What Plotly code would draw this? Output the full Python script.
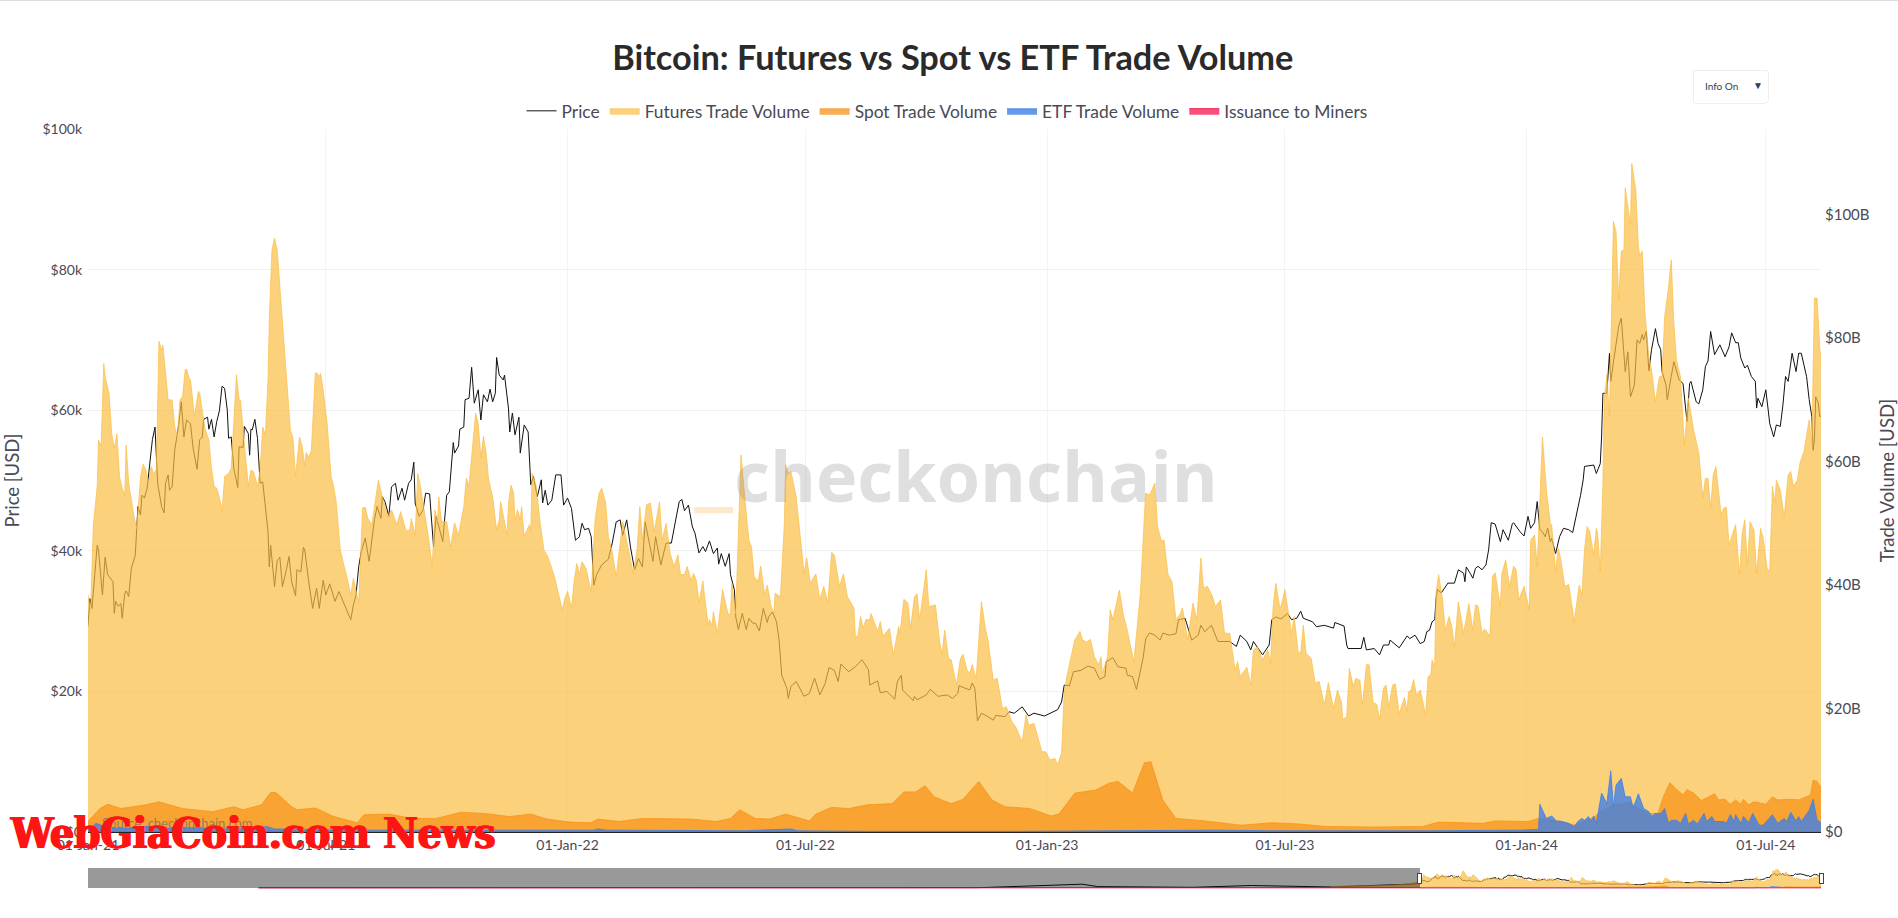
import pandas as pd
import plotly.graph_objects as go

START = pd.Timestamp("2021-01-01")
END = pd.Timestamp("2024-08-12")
SLIDER_START = "2009-01-03"

# days since 2021-01-01 / USD thousands
price_days = [0,1.5,3,7,8,11,13,15,17,19,20,21,23,25,26,28,29,31,33,36,38,40,41,43,45,47,49,51,53,56,58,59,61,62,64,66,69,71,73,75,78,80,83,85,87,88,91,92,94,96,98,100,102,104,106,107,109,111,114,115,118,119,122,123,124,125,127,129,131,133,135,137,138,139,142,144,146,148,151,153,155,158,159,162,164,165,168,171,174,176,179,181,184,186,188,191,194,197,200,202,204,206,208,211,214,218,220,223,
224,226,229,231,234,236,239,241,244,246,248,249,252,255,257,260,263,265,268,270,273,275,278,279,282,283,286,287,290,292,294,297,299,301,304,306,308,310,311,313,316,317,320,321,323,325,328,329,332,335,337,339,342,345,346,348,350,353,356,360,362,365,368,370,371,374,376,378,381,383,385,387,391,396,399,402,405,407,410,413,416,419,422,424,428,430,432,436,440,444,447,450,
452,454,457,460,462,465,468,470,473,476,479,480,482,485,488,489,492,493,495,498,501,503,506,508,511,514,517,518,521,524,526,528,532,533,535,539,545,549,553,557,561,564,568,571,573,579,584,589,594,595,601,603,608,614,616,619,620,628,629,631,638,641,647,654,658,662,663,671,673,675,677,680,
685,689,691,698,701,705,711,716,720,728,738,741,743,747,750,756,761,766,770,774,775,780,784,790,791,795,798,800,803,805,808,812,816,818,823,828,830,835,838,840,845,847,850,855,860,869,874,877,882,885,887,894,899,901,904,908,
913,916,920,923,925,932,935,941,948,949,956,958,959,969,971,973,979,983,986,990,991,998,1004,1006,1010,1014,1017,1019,1021,1023,1025,1026,1027,1030,1035,1040,1043,1047,1048,1049,1052,1054,1056,1058,1061,1064,1066,1068,1071,1075,1077,1081,1084,1085,1090,1093,1096,1098,1101,1103,1105,1107,1109,1111,1113,
1114,1117,1120,1123,1127,1130,1133,1136,1138,1139,1146,1148,1151,1152,1153,1156,1158,1159,1162,1165,1167,1170,1172,1174,1177,1179,1181,1183,1184,1186,1188,1190,1193,1195,1197,1198,1201,1202,1205,1207,1211,1214,1217,1219,1220,1224,1226,1229,1231,1233,1235,1238,1242,1246,1249,1251,1254,1256,1258,1261,1263,1266,1269,1270,1271,1274,1277,1280,1283,1285,1288,1290,1292,1294,1296,1297,1300,1302,1304,1308,1310,1312,1313,1314,1315,1317,1318,1320]
price_k = [29.4,33.2,31.8,40.8,40.1,33.7,39.1,36.6,36.1,35.6,31.1,32.8,32.1,32.5,30.4,33.9,34.3,33.5,37.5,39.4,46.3,45.1,47.9,47.5,48.9,52.2,55.8,57.6,49.6,46.3,45.4,49.6,50.8,48.6,49.1,54.3,57.9,61.2,56.2,58.6,58.1,54.6,51.6,55.8,56.2,58.7,59.0,57.3,58.7,56.2,58.4,59.9,63.4,63.1,60.0,56.0,56.2,51.7,49.0,54.8,54.7,57.7,56.7,53.6,57.3,57.2,58.7,56.0,49.6,49.8,46.3,42.7,37.7,40.8,34.9,38.6,39.1,34.9,37.3,39.2,35.6,33.6,37.3,37.0,40.5,40.1,35.6,31.8,34.7,31.8,35.8,33.7,35.3,33.9,32.8,34.2,32.8,31.6,30.2,32.3,33.7,37.7,39.9,41.8,38.5,44.4,46.3,44.6,
47.7,47.0,44.9,49.1,49.6,47.2,48.9,47.2,49.6,50.1,52.6,46.8,44.9,45.8,48.2,48.1,40.6,44.9,42.7,41.3,47.9,48.4,55.4,53.9,54.9,57.3,57.6,61.5,61.7,66.1,61.0,62.9,58.6,62.2,61.2,63.0,61.2,62.4,67.5,65.0,64.3,65.0,60.3,56.9,59.6,56.5,59.0,53.9,57.9,56.9,49.4,50.6,47.7,50.1,46.8,48.6,46.5,47.2,50.8,50.8,46.5,47.5,46.0,43.4,41.5,42.0,43.9,43.0,43.2,42.0,35.1,36.6,38.0,38.8,41.1,44.1,44.4,42.2,44.4,40.4,37.3,38.9,37.7,44.1,40.1,38.5,42.0,38.0,41.1,41.1,44.1,47.0,
47.3,45.7,46.5,43.4,42.5,39.7,40.6,39.9,41.4,39.6,40.4,38.1,39.6,37.8,39.6,36.6,34.4,30.6,28.8,31.1,28.8,30.4,29.7,29.7,28.6,31.8,29.8,30.6,31.3,29.9,27.3,22.3,20.4,19.0,20.7,21.4,19.3,19.7,21.9,19.5,21.1,23.4,23.0,21.4,23.9,22.8,23.5,24.5,23.1,20.9,21.5,19.8,20.0,18.9,21.4,22.3,20.2,18.7,19.3,18.8,19.5,20.3,19.3,19.5,19.0,19.7,20.8,20.2,21.2,20.4,15.8,16.9,
16.4,15.9,16.6,16.4,17.1,16.9,17.8,16.5,16.9,16.5,17.4,18.5,20.9,20.8,22.8,23.0,23.6,23.3,21.7,22.1,24.2,24.8,23.5,23.3,22.3,22.1,20.3,21.9,24.7,27.5,28.3,28.0,27.3,28.3,28.0,28.2,30.2,30.4,28.5,27.3,28.0,29.4,28.5,29.4,27.1,27.1,26.4,28.0,27.1,25.9,27.1,25.2,26.6,30.2,30.6,30.3,
31.1,30.2,30.4,31.4,30.4,29.9,29.2,29.4,29.0,29.8,29.3,26.6,26.1,26.1,27.7,25.9,26.1,25.2,26.6,26.6,27.3,26.2,27.9,27.5,28.0,26.8,27.1,28.5,28.7,29.9,30.2,33.2,34.5,34.0,35.4,35.4,37.3,36.8,35.6,37.7,36.8,36.1,37.5,37.8,37.3,38.0,40.1,44.0,43.8,41.3,43.0,41.5,43.8,44.0,42.7,42.1,44.9,43.2,44.0,47.0,43.0,42.7,42.0,43.2,41.3,
41.8,39.6,42.0,43.2,43.0,42.6,45.1,47.9,50.1,52.0,52.2,51.0,52.4,56.2,62.4,62.4,68.1,64.1,68.1,71.9,73.1,65.5,68.3,61.9,63.6,70.0,69.5,70.8,70.0,71.2,65.6,68.6,71.6,69.5,68.6,65.5,63.6,61.5,64.8,66.9,64.3,63.8,58.4,63.8,64.1,61.2,60.9,62.9,66.2,67.0,71.2,67.9,69.3,67.6,69.0,71.0,69.6,69.6,67.4,66.0,66.4,64.8,64.1,60.3,61.7,60.5,62.9,58.1,56.2,57.9,57.7,60.7,64.8,64.1,66.7,68.1,65.5,68.1,68.1,64.8,61.5,59.1,54.3,55.8,61.9,61.0,59.1,59.3]

# earlier history, only seen in the range slider
hist_price_dates = ["2010-07-18","2013-11-30","2015-01-15","2017-01-01","2017-12-17","2018-02-06","2018-12-15","2019-06-26","2020-03-13","2020-08-01","2020-12-15"]
hist_price_k = [0.1,1.1,0.2,1.0,19.0,6.9,3.3,12.5,5.0,11.5,20.0]

futures_days = [0,2,4,7,8,10,12,13,16,18,20,22,24,26,28,29,31,35,37,38,40,42,44,46,48,50,52,54,56,57,59,61,64,66,68,70,72,74,75,77,78,81,84,85,89,92,94,96,98,101,102,104,107,109,113,115,116,119,122,124,126,129,131,133,135,137,138,140,142,144,148,149,152,154,156,158,161,163,165,166,168,170,173,174,176,177,179,182,185,187,189,192,195,197,200,202,206,209,211,213,216,219,221,224,
228,231,235,238,242,245,246,249,251,253,257,259,262,264,266,267,269,273,276,279,282,286,288,290,292,295,297,299,301,303,305,308,311,313,314,319,320,322,324,325,327,329,330,332,336,337,338,341,344,347,350,355,358,361,363,365,368,370,372,374,376,379,383,386,389,391,394,396,399,402,407,412,415,418,420,422,425,428,431,435,437,440,443,446,449,451,
454,456,459,461,463,465,468,469,472,473,475,476,479,483,487,489,490,493,495,497,501,503,505,507,510,512,515,517,520,522,523,527,530,531,533,535,539,544,545,547,550,551,554,557,560,563,566,568,572,575,578,583,584,586,588,590,592,595,596,601,603,605,610,613,615,617,618,621,624,626,629,631,633,638,640,645,648,650,652,655,657,661,664,666,669,671,673,676,
680,683,685,689,692,696,699,703,706,711,714,716,720,723,726,729,732,736,738,741,743,745,748,751,755,757,760,763,766,769,771,772,776,778,780,785,788,791,796,799,801,804,805,808,812,814,817,819,822,825,828,831,833,837,841,844,847,849,852,856,858,862,865,869,873,875,877,882,885,887,890,894,898,900,902,904,907,
908,911,914,916,918,921,923,925,927,931,934,937,941,944,948,951,954,955,958,960,963,965,968,970,973,975,978,981,983,986,988,990,993,995,998,1002,1004,1005,1007,1009,1011,1014,1018,1020,1022,1023,1025,1026,1028,1031,1033,1036,1038,1040,1043,1047,1051,1054,1056,1058,1061,1063,1067,1069,1071,1075,1076,1079,1082,1085,1087,1089,1093,1097,1098,1101,1103,1107,1110,1113,
1114,1117,1119,1121,1124,1127,1130,1131,1135,1137,1139,1141,1143,1146,1148,1149,1151,1153,1154,1156,1158,1160,1161,1163,1165,1167,1169,1170,1174,1175,1178,1180,1181,1183,1185,1188,1190,1193,1196,1198,1200,1203,1205,1207,1209,1212,1215,1218,1222,1226,1229,1231,1233,1235,1237,1239,1243,1245,1247,1249,1252,1254,1257,1259,1261,1263,1265,1268,1270,1273,1275,1278,1280,1282,1284,1285,1288,1291,1294,1296,1298,1301,1303,1306,1310,1312,1314,1316,1318,1320]
futures_b = [38.4,36.0,49.5,56.0,63.5,62.5,75.9,73.8,71.1,64.6,62.2,64.5,57.6,55.7,54.6,62.7,56.5,51.1,49.2,51.6,57.6,59.6,58.7,56.5,59.2,58.1,58.7,79.5,78.1,78.9,74.9,70.0,70.0,65.7,64.1,70.0,70.6,74.9,75.0,73.5,73.3,67.3,71.4,71.1,65.4,63.5,58.9,56.0,55.7,53.3,51.9,57.6,58.1,58.9,74.1,70.0,70.0,63.5,56.0,58.6,58.4,56.0,58.7,65.6,64.3,73.3,83.0,94.3,96.2,94.3,83.0,80.8,72.2,65.2,63.8,57.6,64.0,62.5,59.3,61.5,60.7,61.8,74.4,74.4,73.8,74.3,71.6,66.2,57.6,56.0,53.3,45.7,43.0,41.4,38.4,41.1,37.1,52.5,52.6,50.8,49.8,54.3,57.0,54.3,
51.1,52.2,49.8,51.9,48.8,48.9,50.8,48.1,58.1,56.0,50.6,47.9,43.0,52.2,50.3,54.3,50.3,50.3,46.2,50.1,48.1,52.7,57.3,56.0,60.8,67.9,66.2,60.6,64.1,61.4,57.0,54.3,48.9,50.6,53.5,48.1,53.3,56.2,54.9,50.6,52.2,50.6,52.7,47.9,49.8,48.7,58.1,56.2,50.3,45.7,44.6,41.4,38.7,36.0,37.9,39.0,36.3,40.6,43.5,41.7,43.8,42.7,39.0,50.8,54.9,55.7,53.3,47.9,45.4,41.4,50.3,45.2,41.9,46.0,52.7,47.3,53.0,53.3,48.7,53.5,47.3,50.0,45.2,43.0,44.9,41.7,
41.7,43.0,40.8,41.9,40.8,37.1,40.7,38.7,33.5,34.4,33.5,35.7,32.2,39.3,35.4,35.2,40.3,35.4,50.0,61.1,51.6,47.3,46.2,41.4,40.6,43.1,38.4,40.0,36.5,35.4,38.7,38.1,50.0,59.5,58.1,58.4,54.3,43.0,41.9,44.4,40.0,40.8,41.8,37.6,39.8,37.1,45.3,44.9,39.8,41.8,38.1,36.3,31.7,31.7,34.9,33.0,34.4,34.4,35.4,32.5,34.1,31.7,33.0,28.7,30.8,33.3,32.2,37.7,37.1,33.0,38.1,38.6,34.4,42.5,36.5,36.8,31.1,28.7,32.7,28.1,27.9,23.8,28.1,28.8,26.3,25.7,27.1,24.9,
37.3,33.0,31.1,24.6,24.9,20.0,20.3,17.9,17.1,14.6,19.0,17.3,17.6,15.5,13.0,13.0,11.7,11.9,10.9,12.8,22.5,25.2,28.4,31.1,32.5,31.1,30.8,31.2,28.4,27.1,28.4,25.7,28.4,36.0,34.4,39.2,35.2,32.7,27.6,34.9,38.7,51.1,54.9,54.6,56.5,49.5,47.1,47.3,41.7,40.6,34.4,35.2,36.3,31.1,37.1,34.4,44.4,39.5,39.8,38.1,36.5,37.6,32.2,32.2,26.3,27.6,25.2,26.7,23.8,29.5,30.0,27.9,29.5,27.3,36.5,40.3,36.5,
36.5,39.3,34.9,32.2,34.9,29.2,29.0,33.5,29.0,28.1,24.1,24.4,20.6,24.2,20.0,23.0,21.1,18.2,18.7,26.5,23.6,24.9,24.6,20.6,27.1,27.1,21.1,20.6,18.2,23.3,23.8,20.3,23.8,24.0,19.2,21.8,19.5,22.7,23.0,24.7,22.2,23.0,19.0,25.2,25.4,27.9,26.8,38.7,41.7,37.6,32.7,34.9,33.3,30.0,37.3,32.2,37.0,32.7,36.8,36.6,32.2,32.9,31.7,41.4,42.0,36.5,41.7,44.1,39.8,43.1,42.5,37.6,39.8,36.0,47.3,48.1,43.0,64.0,55.4,50.0,
49.8,42.2,46.0,44.1,39.8,40.1,35.9,33.9,40.0,38.4,45.7,49.5,48.7,44.9,49.2,48.4,42.2,56.5,70.0,74.1,67.3,88.9,98.9,97.3,86.2,94.1,94.3,104.4,98.4,108.3,104.1,94.9,93.4,94.1,84.1,77.0,74.9,69.7,73.8,73.8,83.5,88.4,92.7,82.4,76.5,73.8,62.7,70.3,65.2,61.4,54.1,57.3,57.3,52.5,57.9,59.2,51.4,52.5,52.6,46.5,48.4,49.8,41.7,48.4,50.6,43.3,50.3,48.9,41.9,49.2,47.6,42.7,42.2,56.0,53.3,57.0,55.4,51.1,57.9,58.4,56.0,57.0,59.8,61.6,66.8,63.0,86.5,86.5,78.7,73.8]
hist_futures_dates = ["2020-03-10","2020-03-20","2020-06-15","2020-09-15","2020-11-15","2020-12-20"]
hist_futures_b = [0.0,9.0,12.0,14.0,22.0,32.0]

spot_days = [0,9,15,25,44,54,72,95,111,118,132,139,143,155,159,173,187,205,210,229,247,265,284,302,321,337,349,367,383,388,404,422,459,478,489,496,508,519,531,549,554,566,579,593,612,621,630,637,644,657,666,678,688,698,717,733,739,751,767,777,784,795,804,809,818,828,850,878,901,922,942,979,1016,1028,1062,1071,1096,1104,1119,1132,1147,1151,1162,1174,1180,1188,1195,1199,1204,1209,1214,1217,1222,1228,1238,1241,1246,1250,1254,1258,1260,1264,1268,1272,1277,1282,1286,1296,1302,1311,1313,1316,1320]
spot_b = [1.7,3.8,4.5,3.8,4.4,4.9,3.8,3.3,4.1,3.6,4.4,6.4,6.4,4.1,3.6,3.9,2.5,1.5,2.8,2.9,2.2,2.2,3.2,3.0,2.5,2.9,2.1,1.6,1.5,2.1,1.7,2.2,2.1,1.7,2.2,3.6,2.2,2.1,2.9,1.8,2.9,4.0,3.8,4.4,4.6,6.5,6.5,7.5,5.7,4.6,5.3,8.2,5.2,4.1,3.8,2.6,2.9,6.3,6.8,7.9,8.2,6.3,11.2,11.4,5.2,2.2,1.8,1.1,1.5,1.3,0.9,0.8,0.9,1.6,1.4,1.8,1.7,2.2,1.8,1.1,2.5,3.3,4.4,4.8,3.8,3.0,3.0,5.7,8.0,6.9,6.0,6.9,6.3,5.1,6.2,5.2,5.3,4.5,5.2,4.5,5.3,4.4,4.9,4.7,4.5,5.7,5.2,5.3,5.2,6.0,8.4,8.2,6.9]

etf_days = [0,6,15,30,45,60,80,100,125,136,142,170,200,250,290,335,345,385,388,395,500,535,540,600,700,850,860,900,1000,1020,1090,1104,1105,1108,1110,1114,1118,1120,1127,1131,1134,1137,1139,1142,1144,1146,1148,1152,1156,1159,1161,1163,1167,1170,1174,1176,1180,1184,1188,1190,1193,1197,1200,1203,1205,1209,1212,1216,1218,1222,1225,1230,1232,1236,1238,1245,1247,1250,1253,1254,1258,1260,1264,1267,1272,1275,1282,1286,1291,1293,1296,1300,1302,1304,1308,1310,1313,1316,1320]
etf_b = [0.2,1.4,0.7,0.6,0.9,0.6,0.7,0.5,0.5,0.9,0.5,0.4,0.3,0.3,0.3,0.4,0.3,0.3,0.5,0.3,0.2,0.5,0.2,0.1,0.1,0.2,0.3,0.2,0.1,0.2,0.3,0.4,4.5,3.0,2.2,2.6,1.7,1.8,1.4,0.9,1.7,2.2,1.9,2.5,1.8,2.6,1.4,6.3,4.6,9.9,4.1,7.6,8.7,5.7,5.7,3.8,6.2,3.8,3.3,2.5,3.0,3.0,3.8,1.4,1.9,1.9,1.4,3.0,1.3,1.9,1.3,3.0,1.7,2.5,1.7,1.7,1.4,2.8,1.7,2.8,1.4,2.5,1.5,3.0,1.1,1.1,2.8,1.4,2.2,1.7,3.2,1.8,2.5,1.7,2.8,3.5,5.3,1.9,1.4]

issuance_dates = ["2010-07-18","2017-12-17","2018-12-15","2020-05-10","2021-01-01","2021-04-14","2022-06-15","2023-01-01","2024-03-14","2024-04-20","2024-08-12"]
issuance_b = [0.0,0.03,0.01,0.01,0.03,0.06,0.03,0.02,0.06,0.03,0.03]

price_ticks = [0,20000,40000,60000,80000,100000]
price_labels = ["$0","$20k","$40k","$60k","$80k","$100k"]
volume_ticks = [0,20e9,40e9,60e9,80e9,100e9]
volume_labels = ["$0","$20B","$40B","$60B","$80B","$100B"]

TITLE = "Bitcoin: Futures vs Spot vs ETF Trade Volume"
FONT = "Lato, sans-serif"
TEXT = "#4a4a55"


def dates(days, hist=()):
    return [pd.Timestamp(h) for h in hist] + [START + pd.Timedelta(days=d) for d in days]


fig = go.Figure()
fig.add_trace(go.Scatter(
    name="Price", x=dates(price_days, hist_price_dates),
    y=[v * 1e3 for v in hist_price_k + price_k],
    mode="lines", line=dict(color="#111111", width=1), yaxis="y"))
fig.add_trace(go.Scatter(
    name="Futures Trade Volume", x=dates(futures_days, hist_futures_dates),
    y=[v * 1e9 for v in hist_futures_b + futures_b],
    mode="lines", fill="tozeroy", fillcolor="rgba(251,189,68,0.7)",
    line=dict(color="rgba(251,189,68,0.7)", width=1), yaxis="y2"))
fig.add_trace(go.Scatter(
    name="Spot Trade Volume", x=dates(spot_days), y=[v * 1e9 for v in spot_b],
    mode="lines", fill="tozeroy", fillcolor="rgba(247,147,26,0.75)",
    line=dict(color="rgba(247,147,26,0.75)", width=1), yaxis="y2"))
fig.add_trace(go.Scatter(
    name="ETF Trade Volume", x=dates(etf_days), y=[v * 1e9 for v in etf_b],
    mode="lines", fill="tozeroy", fillcolor="rgba(63,127,230,0.8)",
    line=dict(color="rgba(63,127,230,0.8)", width=1), yaxis="y2"))
fig.add_trace(go.Scatter(
    name="Issuance to Miners", x=pd.to_datetime(issuance_dates), y=[v * 1e9 for v in issuance_b],
    mode="lines", fill="tozeroy", fillcolor="rgba(246,62,110,0.9)",
    line=dict(color="#f63e6e", width=1.5), yaxis="y2"))

fig.update_layout(
    width=1898, height=918,
    margin=dict(l=88, r=77, t=129, b=30, pad=0),
    paper_bgcolor="white", plot_bgcolor="white",
    font=dict(family=FONT, color=TEXT, size=14),
    title=dict(text=TITLE, x=0.502, xanchor="center", y=0.937, yanchor="middle",
               font=dict(family=FONT, size=34.3, color="#2a2a2a", weight=700)),
    hovermode="x unified",
    legend=dict(orientation="h", x=0.4957, xanchor="center", y=1.0256, yanchor="middle",
                font=dict(size=17.4, color=TEXT), itemwidth=30, bgcolor="rgba(0,0,0,0)"),
    xaxis=dict(
        type="date", range=[START, END], dtick="M6", tick0="2021-01-01",
        tickformat="%d-%b-%y", showgrid=True, gridcolor="#f3f3f3", gridwidth=1,
        showline=True, linecolor="#222222", linewidth=1, ticks="", zeroline=False,
        layer="below traces",
        tickfont=dict(size=14, color=TEXT),
        rangeslider=dict(visible=True, thickness=0.027, range=[SLIDER_START, END],
                         bgcolor="white", borderwidth=0),
    ),
    yaxis=dict(
        range=[0, 100000], tickvals=price_ticks, ticktext=price_labels,
        showgrid=True, gridcolor="#f0f0f0", zeroline=False, ticks="",
        ticklabelstandoff=5,
        title=dict(text="Price [USD]", font=dict(size=18.5, color=TEXT), standoff=17),
        automargin=False,
    ),
    yaxis2=dict(
        range=[0, 113.9e9], tickvals=volume_ticks, ticktext=volume_labels,
        overlaying="y", side="right", showgrid=False, zeroline=False, ticks="",
        ticklabelstandoff=3, tickfont=dict(size=15, color=TEXT),
        title=dict(text="Trade Volume [USD]", font=dict(size=18.5, color=TEXT), standoff=13),
        automargin=False,
    ),
    updatemenus=[dict(
        type="dropdown", direction="down", x=0.9256, xanchor="left", y=1.0853, yanchor="top",
        bgcolor="white", bordercolor="#eeeeee", borderwidth=1,
        font=dict(size=10, color="#2a3f5f"), pad=dict(l=0, r=0, t=0, b=0), showactive=False,
        buttons=[dict(label="Info On", method="skip"), dict(label="Info Off", method="skip")],
    )],
    shapes=[
        dict(type="line", xref="paper", yref="paper", x0=-0.06, x1=1.05, y0=1.1835, y1=1.1835,
             line=dict(color="#dddddd", width=2)),
        dict(type="rect", xref="paper", yref="paper", x0=0.3498, x1=0.3722, y0=0.4622, y1=0.4535,
             fillcolor="rgba(250,190,110,0.35)", line=dict(width=0)),
    ],
    annotations=[
        dict(text="checkonchain", xref="paper", yref="paper", x=0.5125, y=0.508,
             xanchor="center", yanchor="middle", showarrow=False,
             font=dict(family="Open Sans, sans-serif", size=70, color="rgba(130,130,130,0.26)", weight=700)),
        dict(text="Source: checkonchain.com", xref="paper", yref="paper", x=0.0069, y=0.0128,
             xanchor="left", yanchor="middle", showarrow=False,
             font=dict(family=FONT, size=13, color="rgba(110,110,110,0.75)")),
        dict(text="WebGiaCoin.com News", xref="paper", yref="paper", x=-0.0463, y=-0.002,
             xanchor="left", yanchor="middle", showarrow=False,
             font=dict(family="DejaVu Serif Condensed, DejaVu Serif, serif", size=42,
                       color="#ff1414", weight=700, shadow="1px 0 0 #ff1414, -1px 0 0 #ff1414")),
    ],
)

fig.write_html("out.html", post_script="document.body.style.margin='0';",
               config={"displayModeBar": False})
